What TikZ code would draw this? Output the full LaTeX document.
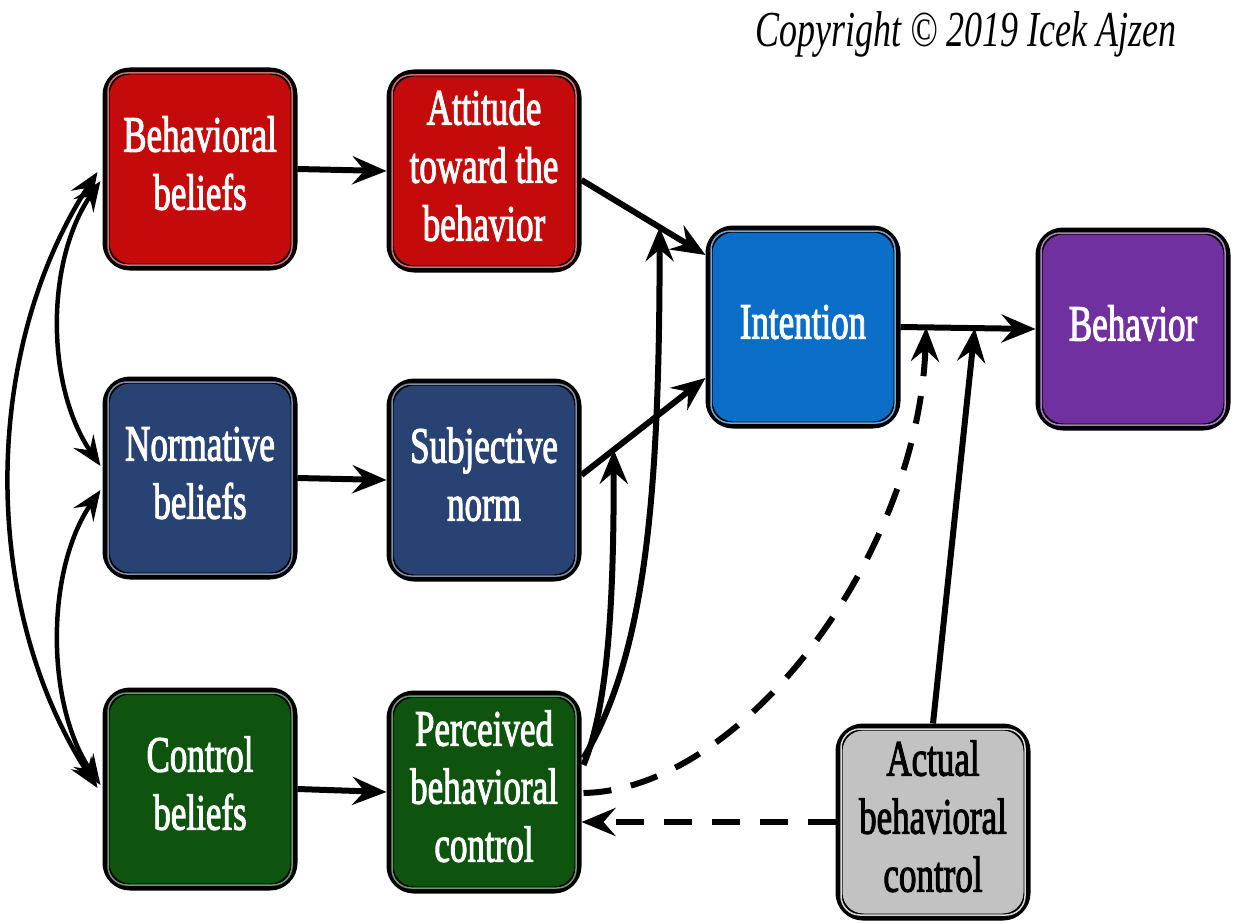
\documentclass[tikz,border=0pt]{standalone}
\usepackage{fontspec}
\setmainfont{Liberation Serif}
\newfontfamily\boxfont[FakeBold=2.5]{Liberation Serif}
\usetikzlibrary{arrows.meta,calc}
\definecolor{cred}{RGB}{196,10,10}
\definecolor{cnavy}{RGB}{40,66,115}
\definecolor{cgreen}{RGB}{14,84,14}
\definecolor{cblue}{RGB}{10,110,200}
\definecolor{cpurple}{RGB}{112,48,160}
\definecolor{cgray}{RGB}{194,194,194}
\newcommand{\bxt}[1]{\scalebox{1}[1.45]{\begin{tabular}{@{}c@{}}#1\end{tabular}}}
\begin{document}
\begin{tikzpicture}[x=1pt,y=-1pt,
  box/.style={draw=black, line width=7pt, rounded corners=24pt,
    minimum width=188pt, minimum height=196pt, inner sep=0pt,
    text=white, font=\boxfont\fontsize{35}{40}\selectfont},
  arr/.style={line width=6pt, -{Stealth[length=34pt,width=28pt,inset=12pt]}},
  biarr/.style={line width=4.5pt, {Stealth[length=30pt,width=24pt,inset=11pt]}-{Stealth[length=30pt,width=24pt,inset=11pt]}},
  darr/.style={arr, dash pattern=on 28pt off 20pt}
]
\useasboundingbox (0,0) rectangle (1236,923);

\node[anchor=base west, font=\fontsize{36}{40}\selectfont\itshape] (copy) at (752,47)
  {\scalebox{1}[1.4]{Copyright \textcopyright{} 2019 Icek Ajzen}};

\node[box, fill=cred]    (bb)  at (200,169) {\bxt{Behavioral\\beliefs}};
\node[box, fill=cred]    (att) at (484,171) {\bxt{Attitude\\toward the\\behavior}};
\node[box, fill=cnavy]   (nb)  at (200,478) {\bxt{Normative\\beliefs}};
\node[box, fill=cnavy]   (sn)  at (484,480) {\bxt{Subjective\\norm}};
\node[box, fill=cgreen]  (cb)  at (200,789) {\bxt{Control\\beliefs}};
\node[box, fill=cgreen]  (pbc) at (484,792) {\bxt{Perceived\\behavioral\\control}};
\node[box, fill=cblue]   (int) at (803,327) {\bxt{Intention}};
\node[box, fill=cpurple] (beh) at (1133,329) {\bxt{Behavior}};
\node[box, fill=cgray, text=black, minimum height=190pt] (abc) at (933,822) {\bxt{Actual\\behavioral\\control}};

\foreach \n/\c in {bb/cred,att/cred,nb/cnavy,sn/cnavy,cb/cgreen,pbc/cgreen,int/cblue,beh/cpurple,abc/cgray}
  \draw[line width=1.5pt, \c!60!white, rounded corners=19pt]
    ($(\n.north west)+(5.5,5.5)$) rectangle ($(\n.south east)+(-5.5,-5.5)$);

% straight paths
\draw[arr] (bb.east) -- (att.west);
\draw[arr] (nb.east) -- (sn.west);
\draw[arr] (cb.east) -- (pbc.west);
\coordinate (a1) at ($(att.east)+(0,9)$);
\coordinate (i1) at ($(int.west)+(0,-72)$);
\coordinate (s1) at ($(sn.east)+(0,-5)$);
\coordinate (i2) at ($(int.west)+(0,51)$);
\draw[arr] (a1) -- (i1);
\draw[arr] (s1) -- (i2);
\draw[arr] (int.east) -- (beh.west);

% moderation points
\coordinate (m1) at ($(a1)!0.63!(i1)$);
\coordinate (m2) at ($(s1)!0.26!(i2)$);
\coordinate (m3) at ($(int.east)!0.19!(beh.west)$);
\coordinate (m4) at ($(int.east)!0.55!(beh.west)$);

\draw[arr] ($(pbc.east)+(2,-34)$) .. controls +(60,-100) and +(0,280) .. (m1);
\draw[arr] ($(pbc.east)+(2,-27)$) .. controls +(25,-60) and +(0,150) .. (m2);
\draw[darr] ($(pbc.east)+(2,1)$) .. controls +(158,-3) and +(-8,230) .. (m3);
\draw[arr] (abc.north) -- (m4);
\draw[darr] (abc.west) -- (abc.west -| pbc.east);

% left correlations
\draw[biarr] ($(bb.west)+(-2,12)$) .. controls +(-55,80) and +(-55,-80) .. ($(nb.west)+(-2,-12)$);
\draw[biarr] ($(nb.west)+(-2,12)$) .. controls +(-55,80) and +(-55,-80) .. ($(cb.west)+(-2,-4)$);
\draw[biarr] ($(bb.west)+(-5,3)$) .. controls +(-117,180) and +(-117,-180) .. ($(cb.west)+(-5,-1)$);
\end{tikzpicture}
\end{document}
